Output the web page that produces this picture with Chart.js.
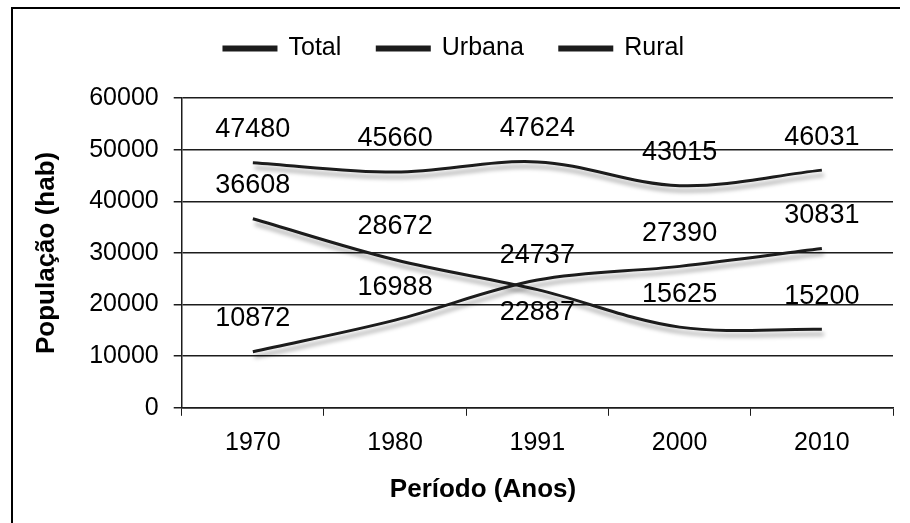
<!DOCTYPE html>
<html>
<head>
<meta charset="utf-8">
<script src="https://cdn.jsdelivr.net/npm/chart.js@4"></script>
<style>
  body { margin: 0; background: #fff; }
  #wrap { width: 910px; height: 523px; position: relative; }
</style>
</head>
<body>
<div id="wrap"><canvas id="chart"></canvas></div>
<script>
// data
const anos = ['1970', '1980', '1991', '2000', '2010'];
const total = [47480, 45660, 47624, 43015, 46031];
const urbana = [10872, 16988, 24737, 27390, 30831];
const rural = [36608, 28672, 22887, 15625, 15200];
const yTicks = [0, 10000, 20000, 30000, 40000, 50000, 60000];

const FONT = '"Liberation Sans", Arial, sans-serif';
const INK = '#1c1c1c';
const X_TITLE = 'Período (Anos)';

// label offsets (px above the point; negative = below)
const labelShift = {
  1: { 2: 25 },   // Urbana 1991
  2: { 2: -23 }   // Rural 1991
};

// extra room under the legend
const legendGap = {
  id: 'legendGap',
  beforeInit(chart) {
    const fit = chart.legend.fit;
    chart.legend.fit = function () {
      fit.bind(chart.legend)();
      this.height += 27;
    };
  }
};

// grey scan-like shadow under each line
const shadowPlugin = {
  id: 'lineShadow',
  beforeDatasetDraw(chart) {
    const ctx = chart.ctx;
    ctx.save();
    ctx.shadowColor = 'rgba(0,0,0,0.35)';
    ctx.shadowBlur = 4;
    ctx.shadowOffsetX = 2;
    ctx.shadowOffsetY = 5;
  },
  afterDatasetDraw(chart) {
    chart.ctx.restore();
  }
};

// value labels above the points
const valueLabels = {
  id: 'valueLabels',
  afterDatasetsDraw(chart) {
    const ctx = chart.ctx;
    ctx.save();
    ctx.font = '27px ' + FONT;
    ctx.fillStyle = '#000';
    ctx.textAlign = 'center';
    ctx.textBaseline = 'middle';
    chart.data.datasets.forEach((ds, i) => {
      const meta = chart.getDatasetMeta(i);
      meta.data.forEach((pt, j) => {
        const shift = (labelShift[i] && labelShift[i][j] !== undefined) ? labelShift[i][j] : 33;
        ctx.fillText(String(ds.data[j]), pt.x, pt.y - shift);
      });
    });
    ctx.restore();
  }
};

// the x title sits left of the plot centre in the original
const xTitle = {
  id: 'xTitle',
  afterDraw(chart) {
    const ctx = chart.ctx;
    ctx.save();
    ctx.font = 'bold 26px ' + FONT;
    ctx.fillStyle = '#000';
    ctx.textAlign = 'center';
    ctx.textBaseline = 'middle';
    ctx.fillText(X_TITLE, 483, 490);
    ctx.restore();
  }
};

// left + top frame of the original figure
const framePlugin = {
  id: 'frame',
  beforeDraw(chart) {
    const ctx = chart.ctx;
    ctx.save();
    ctx.strokeStyle = '#000';
    ctx.lineWidth = 2;
    ctx.beginPath();
    ctx.moveTo(12, 523);
    ctx.lineTo(12, 8);
    ctx.lineTo(900, 8);
    ctx.stroke();
    ctx.restore();
  }
};

const lineStyle = {
  borderColor: INK,
  backgroundColor: INK,
  borderWidth: 3,
  pointRadius: 0,
  tension: 0.35,
  fill: false
};

new Chart(document.getElementById('chart'), {
  type: 'line',
  data: {
    labels: anos,
    datasets: [
      { label: 'Total', data: total, ...lineStyle },
      { label: 'Urbana', data: urbana, ...lineStyle },
      { label: 'Rural', data: rural, ...lineStyle }
    ]
  },
  options: {
    responsive: true,
    maintainAspectRatio: false,
    animation: false,
    layout: { padding: { left: 15, right: 17, top: 0, bottom: 10 } },
    plugins: {
      tooltip: { enabled: false },
      legend: {
        position: 'top',
        labels: {
          color: '#000',
          font: { family: FONT, size: 25 },
          boxWidth: 52,
          boxHeight: 3,
          padding: 36
        }
      }
    },
    scales: {
      x: {
        offset: true,
        grid: {
          display: true,
          drawOnChartArea: false,
          drawTicks: true,
          tickLength: 8,
          offset: true,
          color: INK
        },
        border: { display: true, color: INK, width: 1.5 },
        ticks: { color: '#000', font: { family: FONT, size: 25 }, padding: 12 },
        title: {
          // space is kept here, the text is drawn by xTitle
          display: true,
          text: X_TITLE,
          color: 'rgba(0,0,0,0)',
          font: { family: FONT, size: 26, weight: 'bold' },
          padding: { top: 5, bottom: 7 }
        }
      },
      y: {
        min: 0,
        max: 60000,
        afterBuildTicks(axis) {
          axis.ticks = yTicks.map(v => ({ value: v }));
        },
        grid: { color: INK, lineWidth: 1.5, tickLength: 8 },
        border: { display: true, color: INK, width: 1.5 },
        ticks: {
          color: '#000',
          font: { family: FONT, size: 25 },
          padding: 15,
          callback: v => String(v)
        },
        title: {
          display: true,
          text: 'População (hab)',
          color: '#000',
          font: { family: FONT, size: 26, weight: 'bold' },
          padding: { top: 16, bottom: 12 }
        }
      }
    }
  },
  plugins: [legendGap, framePlugin, shadowPlugin, valueLabels, xTitle]
});
</script>
</body>
</html>
